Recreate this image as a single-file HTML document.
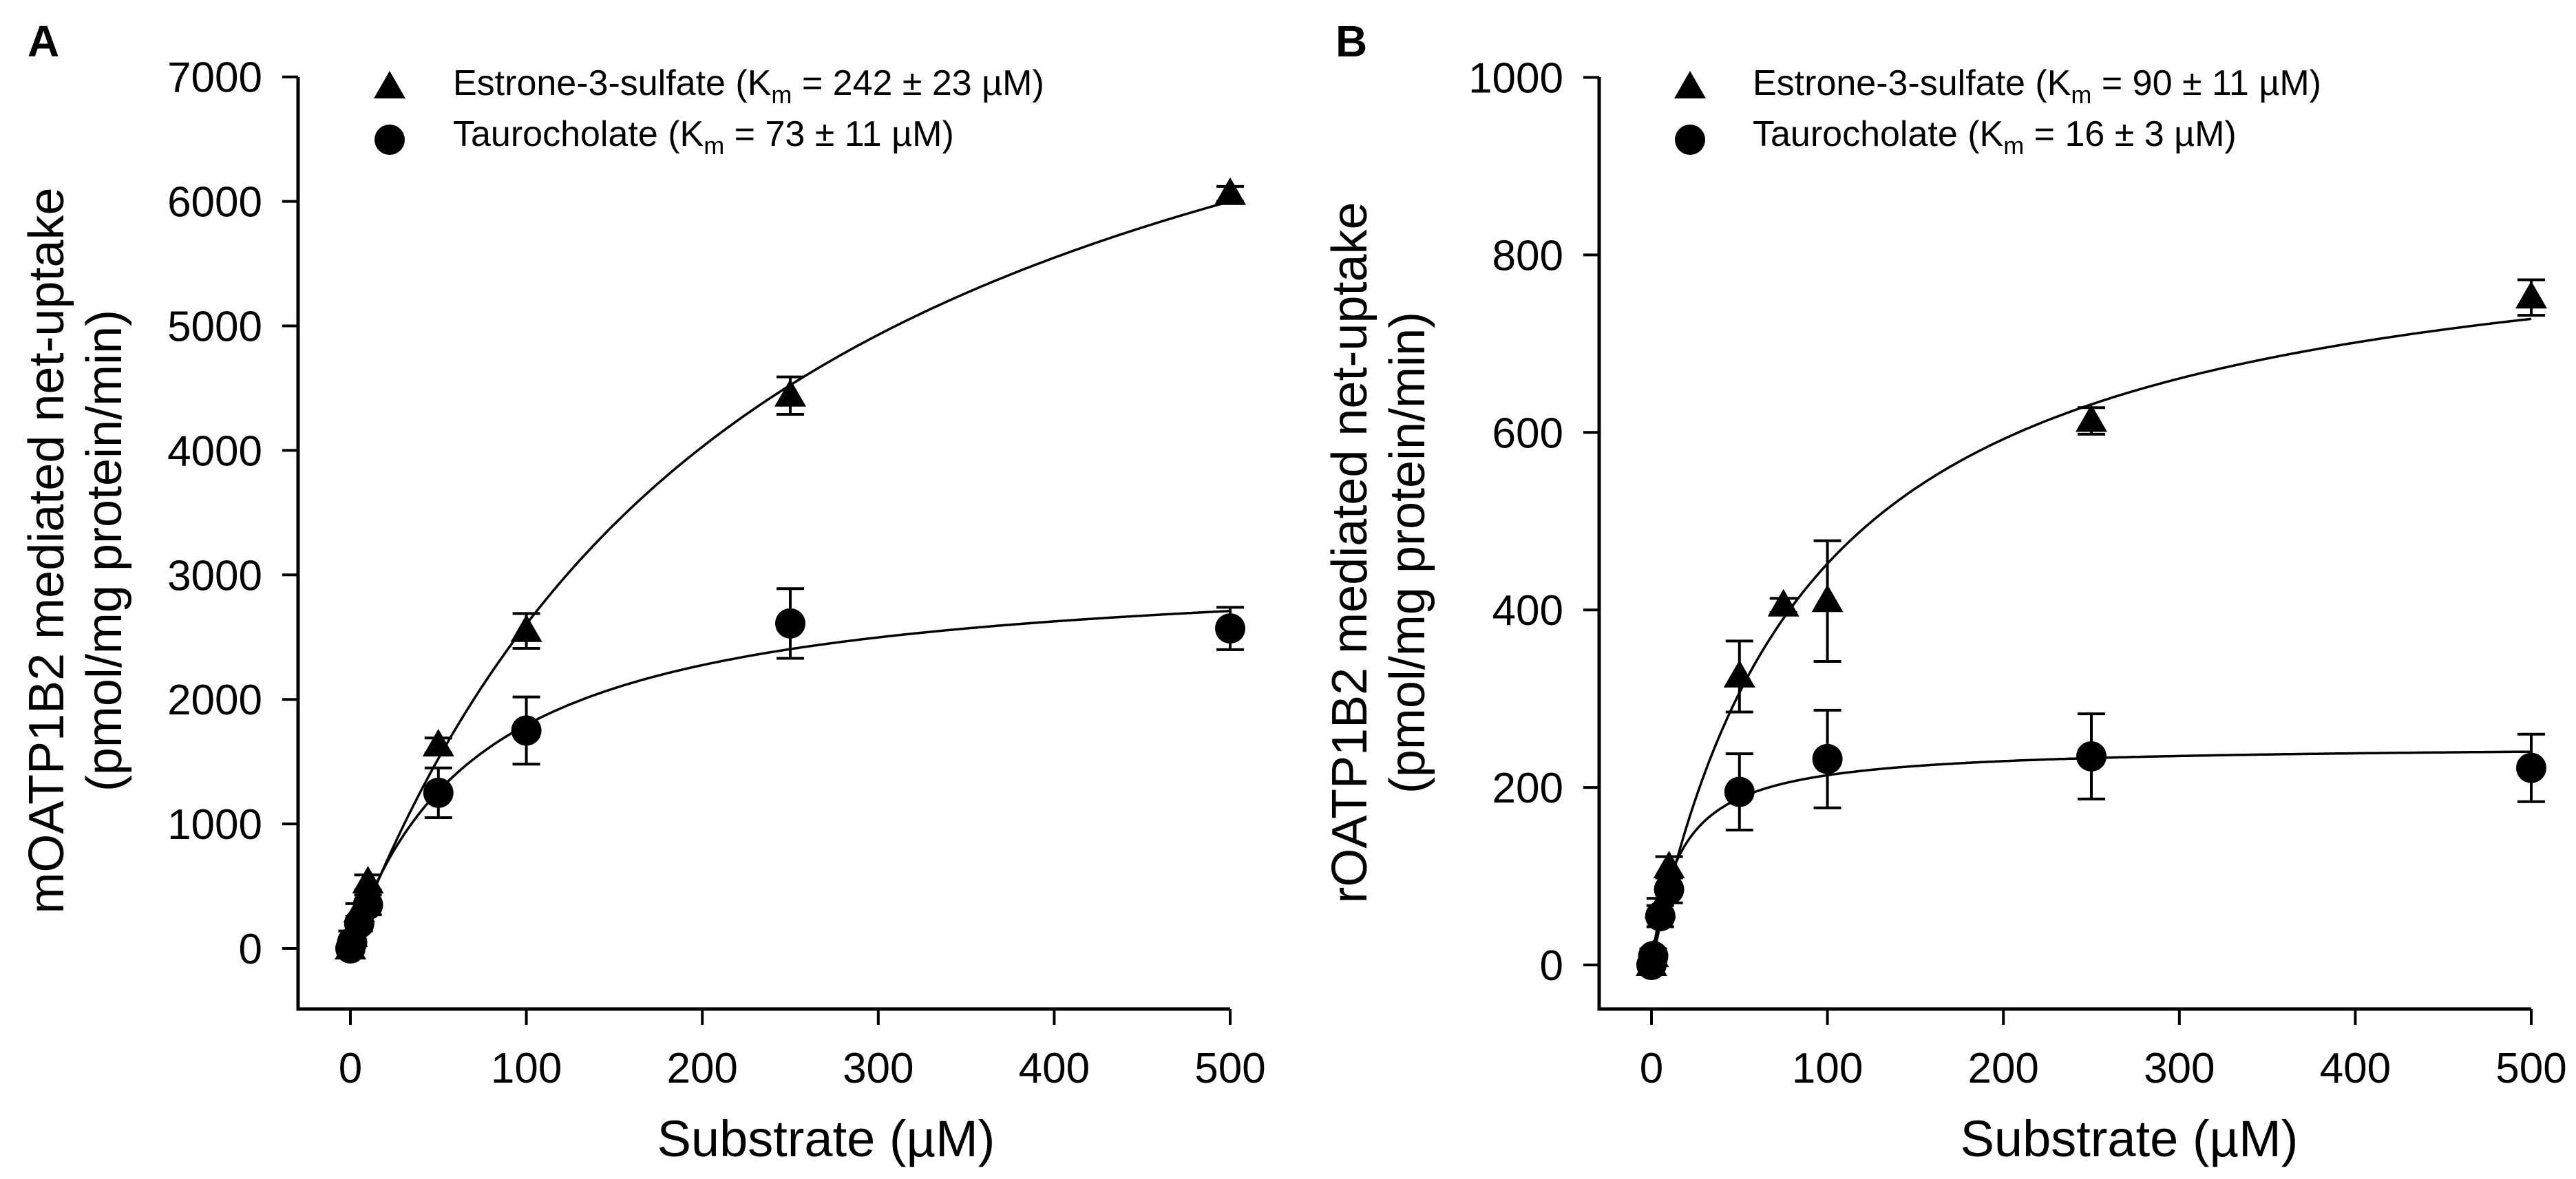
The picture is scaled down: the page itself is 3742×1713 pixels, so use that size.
<!DOCTYPE html>
<html><head><meta charset="utf-8"><style>
html,body{margin:0;padding:0;background:#fff;}
svg{display:block;font-family:"Liberation Sans",Arial,sans-serif;}
</style></head><body>
<svg id="fig" width="3742" height="1713" viewBox="0 0 3742 1713" xmlns="http://www.w3.org/2000/svg">
<rect width="3742" height="1713" fill="#fff"/>
</svg>
<script>
// ---- Panel A data ----
const aX = [0, 1, 5, 10, 50, 100, 250, 500];
const aE3S = [0, 100, 300, 530, 1630, 2550, 4440, 6060];
const aE3SErr = [20, 40, 60, 60, 60, 140, 150, 60];
const aTC = [0, 50, 200, 350, 1250, 1750, 2610, 2570];
const aTCErr = [20, 40, 60, 80, 200, 270, 280, 170];
const aFitE3S = [8904, 242]; // Vmax, Km
const aFitTC = [3106, 73];
const aYTicks = [0, 1000, 2000, 3000, 4000, 5000, 6000, 7000];
const xTicks = [0, 100, 200, 300, 400, 500];
// ---- Panel B data ----
const bXE3S = [0, 1, 5, 10, 50, 75, 100, 250, 500];
const bE3S = [0, 10, 65, 110, 325, 405, 410, 613, 752];
const bE3SErr = [5, 8, 10, 12, 40, 8, 68, 15, 20];
const bXTC = [0, 1, 5, 10, 50, 100, 250, 500];
const bTC = [0, 10, 55, 85, 195, 232, 235, 222];
const bTCErr = [5, 8, 12, 15, 43, 55, 48, 38];
const bFitE3S = [859, 90];
const bFitTC = [248, 16];
const bYTicks = [0, 200, 400, 600, 800, 1000];

const NS = "http://www.w3.org/2000/svg";
const svg = document.getElementById('fig');
function mk(tag, attrs, parent) {
  const e = document.createElementNS(NS, tag);
  for (const k in attrs) e.setAttribute(k, attrs[k]);
  (parent || svg).appendChild(e);
  return e;
}

function panel(cfg) {
  const g = mk('g', {});
  
  
  const X = v => cfg.x0 + v * cfg.xs;
  const Y = v => cfg.y0 - v * cfg.ys;
  // axes
  const ax = mk('path', {d: `M${cfg.axX} ${cfg.axTop} V${cfg.axY} H${X(500)}`, fill: 'none', stroke: '#000', 'stroke-width': 5}, g);
  
  
  cfg.yTicks.forEach(t => {
    const l = mk('line', {x1: cfg.axX - 23, x2: cfg.axX, y1: Y(t), y2: Y(t), stroke: '#000', 'stroke-width': 4}, g);
    
    
    const tx = mk('text', {x: cfg.axX - 52, y: Y(t) + 22, 'text-anchor': 'end', 'font-size': 62}, g);
    tx.textContent = t;
    
    
  });
  xTicks.forEach(t => {
    const l = mk('line', {x1: X(t), x2: X(t), y1: cfg.axY, y2: cfg.axY + 23, stroke: '#000', 'stroke-width': 4}, g);
    
    
    const tx = mk('text', {x: X(t), y: 1573, 'text-anchor': 'middle', 'font-size': 62}, g);
    tx.textContent = t;
    
    
  });
  // titles
  const xt = mk('text', {x: cfg.xTitleX, y: 1680, 'text-anchor': 'middle', 'font-size': 74}, g);
  xt.textContent = 'Substrate (µM)';
  
  
  const yt = mk('text', {transform: `translate(${cfg.yTitleX},${cfg.yTitleY}) rotate(-90)`, 'text-anchor': 'middle', 'font-size': 72}, g);
  
  
  const t1 = mk('tspan', {x: 0, y: 0}, yt); t1.textContent = cfg.yTitle;
  const t2 = mk('tspan', {x: 0, y: 84}, yt); t2.textContent = '(pmol/mg protein/min)';
  const pl = mk('text', {x: cfg.letterX, y: 82, 'font-size': 64, 'font-weight': 'bold'}, g);
  pl.textContent = cfg.letter;
  
  
  // fit curves
  [[cfg.fitE3S, 'fit-curve-estrone'], [cfg.fitTC, 'fit-curve-taurocholate']].forEach(([f, nm]) => {
    let d = '';
    for (let i = 0; i <= 500; i++) {
      const s = i;
      const v = f[0] * s / (f[1] + s);
      d += (i ? 'L' : 'M') + X(s).toFixed(1) + ' ' + Y(v).toFixed(1);
    }
    const p = mk('path', {d, fill: 'none', stroke: '#000', 'stroke-width': 3.5}, g);
    
    
  });
  // error bars + markers
  function series(xs, ys, es, kind) {
    xs.forEach((xv, i) => {
      const cx = X(xv), cy = Y(ys[i]);
      const top = Y(ys[i] + es[i]), bot = Y(ys[i] - es[i]);
      const e = mk('path', {d: `M${cx} ${top} V${bot} M${cx - 20} ${top} H${cx + 20} M${cx - 20} ${bot} H${cx + 20}`, stroke: '#000', 'stroke-width': 4, fill: 'none'}, g);
      
      
      let m;
      if (kind === 'tri') {
        m = mk('polygon', {points: `${cx},${cy - 24} ${cx - 23},${cy + 16} ${cx + 23},${cy + 16}`, fill: '#000'}, g);
        
      } else {
        m = mk('circle', {cx, cy, r: 22, fill: '#000'}, g);
        
      }
      
    });
  }
  series(cfg.xE3S, cfg.e3s, cfg.e3sErr, 'tri');
  series(cfg.xTC, cfg.tc, cfg.tcErr, 'circ');
  // legend
  const lg = mk('g', {}, g);
  
  
  const lt = mk('polygon', {points: `${cfg.legX},103 ${cfg.legX - 23},143 ${cfg.legX + 23},143`, fill: '#000'}, lg);
  
  
  const lc = mk('circle', {cx: cfg.legX, cy: 203, r: 22, fill: '#000'}, lg);
  
  
  const l1 = mk('text', {x: cfg.legTX, y: 138, 'font-size': 52}, lg);
  
  
  l1.innerHTML = `Estrone-3-sulfate (K<tspan font-size="36" dy="12">m</tspan><tspan dy="-12"> = ${cfg.km1} µM)</tspan>`;
  const l2 = mk('text', {x: cfg.legTX, y: 212, 'font-size': 52}, lg);
  
  
  l2.innerHTML = `Taurocholate (K<tspan font-size="36" dy="12">m</tspan><tspan dy="-12"> = ${cfg.km2} µM)</tspan>`;
}

panel({name: 'panel-a', letter: 'A', letterX: 40, x0: 509, xs: 2.556, y0: 1378, ys: 0.1809,
  axX: 433, axY: 1466, axTop: 112, yTicks: aYTicks, xTitleX: 1200, yTitleX: 92, yTitleY: 800,
  yTitle: 'mOATP1B2 mediated net-uptake', fitE3S: aFitE3S, fitTC: aFitTC,
  xE3S: aX, e3s: aE3S, e3sErr: aE3SErr, xTC: aX, tc: aTC, tcErr: aTCErr,
  legX: 566, legTX: 658, km1: '242 ± 23', km2: '73 ± 11'});
panel({name: 'panel-b', letter: 'B', letterX: 1940, x0: 2399, xs: 2.556, y0: 1402, ys: 1.2895,
  axX: 2323, axY: 1466, axTop: 112, yTicks: bYTicks, xTitleX: 3093, yTitleX: 1985, yTitleY: 803,
  yTitle: 'rOATP1B2 mediated net-uptake', fitE3S: bFitE3S, fitTC: bFitTC,
  xE3S: bXE3S, e3s: bE3S, e3sErr: bE3SErr, xTC: bXTC, tc: bTC, tcErr: bTCErr,
  legX: 2455, legTX: 2546, km1: '90 ± 11', km2: '16 ± 3'});
</script>
</body></html>
